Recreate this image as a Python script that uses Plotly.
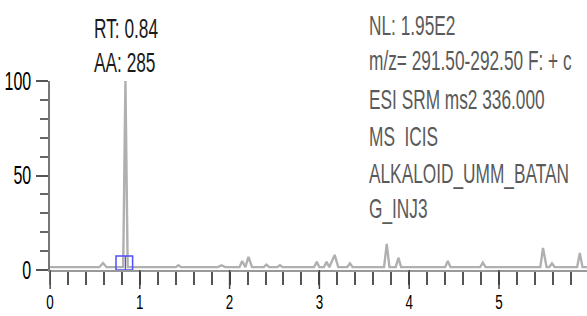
import plotly.graph_objects as go

# ---- data ----
rt_min = [0.0, 0.55, 0.59, 0.63, 0.815, 0.84, 0.865, 1.40, 1.43, 1.46, 1.87, 1.91, 1.95,
          2.11, 2.14, 2.175, 2.21, 2.25, 2.38, 2.41, 2.44, 2.53, 2.56, 2.59,
          2.94, 2.97, 3.00, 3.05, 3.08, 3.11, 3.17, 3.21, 3.31, 3.34, 3.37,
          3.72, 3.75, 3.78, 3.85, 3.88, 3.91, 4.40, 4.43, 4.46, 4.79, 4.82, 4.85,
          5.46, 5.49, 5.53, 5.56, 5.59, 5.62, 5.87, 5.90, 5.93, 6.0]
rel_abundance = [1.5, 1.5, 3.7, 1.5, 1.5, 100, 1.5, 1.5, 2.5, 1.5, 1.5, 2.5, 1.5,
                 1.5, 4.8, 1.5, 6.9, 1.5, 1.5, 2.8, 1.5, 1.5, 2.5, 1.5,
                 1.5, 4.3, 1.5, 1.5, 4.3, 1.5, 8.0, 1.5, 1.5, 3.5, 1.5,
                 1.5, 13.8, 1.5, 1.5, 6.4, 1.5, 1.5, 4.8, 1.5, 1.5, 3.9, 1.5,
                 1.5, 11.7, 1.5, 1.5, 3.5, 1.5, 1.5, 9.0, 1.5, 1.5]
peak_rt = 0.84
peak_area = 285
peak_start = 0.735
peak_end = 0.92
x_ticks = [0, 1, 2, 3, 4, 5]
y_ticks = [0, 50, 100]
header_lines = ["NL: 1.95E2", "m/z= 291.50-292.50 F: + c", "ESI SRM ms2 336.000",
                "MS  ICIS", "ALKALOID_UMM_BATAN", "G_INJ3"]

FONT = "Liberation Sans, Arial, sans-serif"
W, H = 587, 316
L, T, B = 50, 81, 46
plot_h = H - T - B

fig = go.Figure()
fig.add_trace(go.Scatter(x=rt_min, y=rel_abundance, mode="lines",
                         line=dict(color="#b0b0b0", width=2.4), hoverinfo="skip"))

# integration marker box
fig.add_shape(type="rect", xref="x", yref="y", x0=peak_start, x1=peak_end, y0=0, y1=7.4,
              line=dict(color="#4f4fff", width=1.5))
fig.add_shape(type="line", xref="x", yref="y", x0=peak_rt, x1=peak_rt, y0=0, y1=7.4,
              line=dict(color="#4f4fff", width=1.2))
# y axis line continuing below zero
fig.add_shape(type="line", xref="paper", yref="paper", x0=0, x1=0, y0=0, y1=-19 / plot_h,
              line=dict(color="#777", width=1.5))
# longer major x ticks
for xv in x_ticks:
    fig.add_shape(type="line", xref="x", yref="paper", x0=xv, x1=xv, y0=0, y1=-19 / plot_h,
                  line=dict(color="#444", width=1.5))

# annotations
fig.add_annotation(xref="paper", yref="paper", x=(92 - L) / (W - L), y=(H - B - 29) / plot_h,
                   text=f"RT: {peak_rt:.2f}", showarrow=False, xanchor="left", yanchor="middle",
                   align="left", font=dict(family=FONT, size=27, color="#1a1a1a"))
fig.add_annotation(xref="paper", yref="paper", x=(92 - L) / (W - L), y=(H - B - 63) / plot_h,
                   text=f"AA: {peak_area}", showarrow=False, xanchor="left", yanchor="middle",
                   align="left", font=dict(family=FONT, size=27, color="#1a1a1a"))
line_y = [26, 61, 100, 137, 174, 209]
for txt, yy in zip(header_lines, line_y):
    fig.add_annotation(xref="paper", yref="paper", x=(367 - L) / (W - L), y=(H - B - yy) / plot_h,
                       text=txt, showarrow=False, xanchor="left", yanchor="middle", align="left",
                       font=dict(family=FONT, size=27, color="#5a5a5a"))

fig.update_layout(
    width=W, height=H, margin=dict(l=L, r=0, t=T, b=B, autoexpand=False),
    paper_bgcolor="white", plot_bgcolor="white", showlegend=False,
    font=dict(family=FONT, size=25, color="black"),
)
fig.update_xaxes(range=[0, (W - L) / 89.8], tickvals=x_ticks, ticktext=[str(v) for v in x_ticks],
                 ticks="outside", ticklen=12, tickwidth=1.5, tickcolor="#444", automargin=False,
                 minor=dict(dtick=0.2, tick0=0, ticks="outside", ticklen=13, tickwidth=1.5, tickcolor="#555"),
                 showline=True, linecolor="#999", linewidth=2, showgrid=False, zeroline=False,
                 tickfont=dict(family=FONT, size=21, color="black"), fixedrange=True)
fig.update_yaxes(range=[0, 100], tickvals=y_ticks, ticktext=[str(v) for v in y_ticks],
                 ticks="outside", ticklen=12, tickwidth=1.5, tickcolor="#555", automargin=False,
                 minor=dict(dtick=10, tick0=0, ticks="outside", ticklen=8, tickwidth=1.5, tickcolor="#666"),
                 showline=True, linecolor="#777", linewidth=1.5, showgrid=False, zeroline=False,
                 tickfont=dict(family=FONT, size=25, color="black"), fixedrange=True)

# condensed (narrow) glyph look, like the instrument software's font
post_js = r"""
document.body.style.margin='0';document.body.style.padding='0';
document.querySelectorAll('.plotly-graph-div svg text').forEach(function(t){
  var a=t.getAttribute('text-anchor')||'start';
  var o=a==='end'?'right center':(a==='middle'?'center center':'left center');
  var tr=t.getAttribute('transform')||'';
  tr=tr.replace(/translate\(\s*([-\d.e]+)(?:[\s,]+([-\d.e]+))?\s*\)/g,function(m,x,y){return 'translate('+x+'px,'+(y||0)+'px)';});
  t.style.transformBox='fill-box';
  t.style.transformOrigin=o;
  t.style.transform=(tr+' scaleX(0.64)').trim();
});
"""
fig.write_html("out.html", post_script=post_js, config={"displayModeBar": False})
